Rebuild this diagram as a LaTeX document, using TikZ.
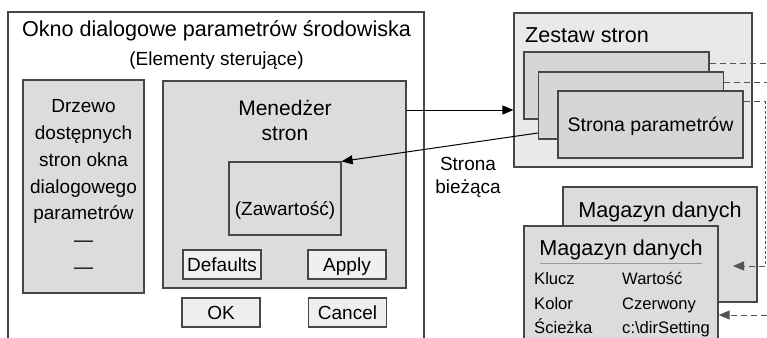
\documentclass[tikz,border=0pt]{standalone}
\usepackage{fontspec}
\setmainfont{Liberation Sans}
\usetikzlibrary{arrows.meta}

\definecolor{boxline}{HTML}{474747}
\definecolor{panelgray}{HTML}{DCDCDC}
\definecolor{setgray}{HTML}{E9E9E9}
\definecolor{pagegray}{HTML}{D6D6D6}
\definecolor{btngray}{HTML}{EFEFEF}
\definecolor{sepgray}{HTML}{9A9A9A}
\definecolor{dashgray}{HTML}{555555}

\newcommand{\fontbig}{\fontsize{21.6}{25}\selectfont}
\newcommand{\fontmid}{\fontsize{19}{23}\selectfont}
\newcommand{\fontsmall}{\fontsize{16.6}{20}\selectfont}

\tikzset{
  winbox/.style={draw=boxline, line width=1.2pt, fill=white},
  panel/.style={draw=boxline, line width=1.2pt, fill=panelgray, inner sep=0pt},
  setbox/.style={draw=boxline, line width=1.2pt, fill=setgray},
  page/.style={draw=boxline, line width=1.2pt, fill=pagegray, minimum width=185pt, minimum height=67pt},
  btn/.style={draw=boxline, line width=1.2pt, fill=btngray, minimum width=78pt, minimum height=29pt,
    font=\fontmid, text height=13.6pt, text depth=0pt},
  txt/.style={inner sep=0pt},
  cell/.style={inner sep=0pt, anchor=base west, font=\fontsmall},
  arrow/.style={draw=black, line width=1pt, ->},
  dashline/.style={draw=dashgray, line width=1pt, dash pattern=on 6pt off 4pt},
  dotline/.style={draw=dashgray, line width=1pt, dash pattern=on 3pt off 2pt}
}

\begin{document}
\begin{tikzpicture}[x=1pt, y=-1pt, >={Triangle[length=11pt,width=9pt]}]
    \useasboundingbox (0,0) rectangle (767,337);
    \clip (0,0) rectangle (767,337);

    % dialog window
    \node[winbox, minimum width=416pt, minimum height=340pt] (win) at (216,182) {};
    \node[txt, anchor=base, font=\fontbig] (wintitle) at (216.5,37) {Okno dialogowe parametrów środowiska};
    \node[txt, anchor=base, font=\fontmid] (winsub) at (216.5,65) {(Elementy sterujące)};

    \node[panel, minimum width=121pt, minimum height=213pt, align=center,
          font=\fontsize{19}{26.7}\selectfont] (tree) at (83.5,186.5)
          {Drzewo\\dostępnych\\stron okna\\dialogowego\\parametrów\\—\\—};

    \node[panel, minimum width=243pt, minimum height=207pt] (mgr) at (284.5,184.5) {};
    \node[txt, align=center, font=\fontsize{21}{25}\selectfont] (mgrtitle) at (285,120) {Menedżer\\stron};
    \node[panel, minimum width=112pt, minimum height=73pt] (zaw) at (285,198.5) {};
    \node[txt, anchor=base, font=\fontmid] (zawtxt) at (285,215) {(Zawartość)};
    \node[btn] (defaults) at (222,264.5) {Defaults};
    \node[btn] (apply) at (347,264.5) {Apply};
    \node[btn] (ok) at (221,312.5) {OK};
    \node[btn] (cancel) at (347.5,312.5) {Cancel};

    % page set
    \node[setbox, minimum width=238pt, minimum height=154pt] (pset) at (633,90) {};
    \node[txt, anchor=base west, font=\fontbig] (psettitle) at (525,42) {Zestaw stron};
    \node[page] (p1) at (616.5,85.5) {};
    \node[page] (p2) at (631,105.5) {};
    \node[page, font=\fontsize{19.5}{23}\selectfont, text height=14pt, text depth=0pt] (p3) at (650.5,124.5) {Strona parametrów};

    % data stores
    \node[panel, minimum width=194pt, minimum height=115pt] (storeback) at (660,244.5) {};
    \node[txt, anchor=base, font=\fontbig] (storebacktitle) at (660,217) {Magazyn danych};
    \node[panel, minimum width=194pt, minimum height=130pt] (store) at (621,291) {};
    \node[txt, anchor=base, font=\fontbig] (storetitle) at (621,255) {Magazyn danych};
    \draw[sepgray, line width=1pt] (540,263) -- (702,263);
    \node[cell] (key1) at (534,284) {Klucz};
    \node[cell] (val1) at (622,284) {Wartość};
    \node[cell] (key2) at (534,309) {Kolor};
    \node[cell] (val2) at (622,309) {Czerwony};
    \node[cell] (key3) at (534,333) {Ścieżka};
    \node[cell] (val3) at (622,333) {c:\textbackslash dirSetting};

    % connectors
    \draw[arrow] ([yshift=74.5pt]mgr.east) coordinate (mgrout) -- (mgrout -| pset.west);
    \draw[arrow] ([yshift=-27.5pt]p2.west) -- (zaw.north east);
    \node[txt, align=center, font=\fontmid] (curlabel) at (468,177) {Strona\\bieżąca};

    \coordinate (e1) at (767,63);
    \coordinate (e2) at (767,82);
    \coordinate (c3) at (765,101);
    \coordinate (c4) at (765,266);
    \coordinate (t4) at (733,266);
    \coordinate (e5) at (767,315);
    \draw[dashline] ([yshift=22.5pt]p1.east) -- (e1);
    \draw[dashline] ([yshift=23.5pt]p2.east) -- (e2);
    \draw[dashline] ([yshift=23.5pt]p3.east) -- (c3);
    \draw[dotline] (c3) -- (c4);
    \draw[dashline, ->] (c4) -- (t4);
    \draw[dashline, ->] (e5) -- (e5 -| store.east);
\end{tikzpicture}
\end{document}
